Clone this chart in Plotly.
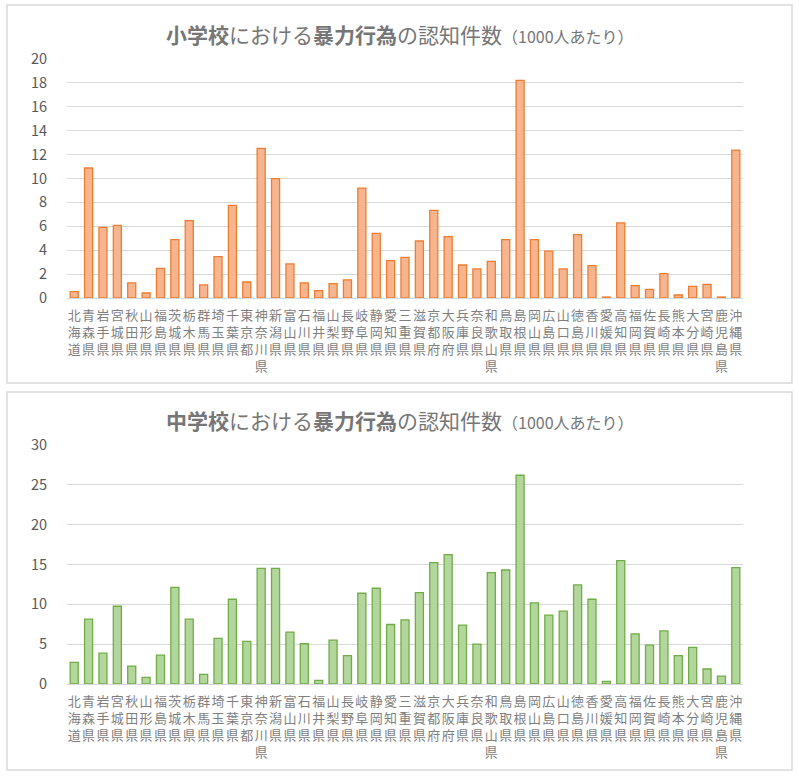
import plotly.graph_objects as go

prefectures = [
    "北海道", "青森県", "岩手県", "宮城県", "秋田県", "山形県", "福島県", "茨城県",
    "栃木県", "群馬県", "埼玉県", "千葉県", "東京都", "神奈川県", "新潟県", "富山県",
    "石川県", "福井県", "山梨県", "長野県", "岐阜県", "静岡県", "愛知県", "三重県",
    "滋賀県", "京都府", "大阪府", "兵庫県", "奈良県", "和歌山県", "鳥取県", "島根県",
    "岡山県", "広島県", "山口県", "徳島県", "香川県", "愛媛県", "高知県", "福岡県",
    "佐賀県", "長崎県", "熊本県", "大分県", "宮崎県", "鹿児島県", "沖縄県",
]

# 小学校 (1000人あたり)
elementary_rates = [
    0.53, 10.88, 5.91, 6.08, 1.26, 0.42, 2.48, 4.88,
    6.47, 1.09, 3.46, 7.75, 1.34, 12.52, 9.99, 2.85,
    1.26, 0.61, 1.20, 1.51, 9.20, 5.41, 3.12, 3.40,
    4.77, 7.34, 5.13, 2.76, 2.43, 3.07, 4.88, 18.21,
    4.88, 3.93, 2.43, 5.30, 2.71, 0.08, 6.28, 1.03,
    0.73, 2.04, 0.25, 0.98, 1.14, 0.08, 12.38,
]

# 中学校 (1000人あたり)
junior_high_rates = [
    2.71, 8.14, 3.88, 9.76, 2.25, 0.83, 3.63, 12.14,
    8.14, 1.21, 5.72, 10.64, 5.34, 14.52, 14.52, 6.51,
    5.05, 0.46, 5.51, 3.55, 11.39, 12.02, 7.47, 8.05,
    11.47, 15.23, 16.23, 7.38, 5.01, 13.98, 14.31, 26.20,
    10.18, 8.64, 9.14, 12.43, 10.64, 0.33, 15.48, 6.30,
    4.88, 6.68, 3.55, 4.59, 1.88, 1.00, 14.60,
]

elementary_ticks = [0, 2, 4, 6, 8, 10, 12, 14, 16, 18, 20]
junior_high_ticks = [0, 5, 10, 15, 20, 25, 30]

W, H = 799, 778
FONT = "Noto Sans CJK JP"
GRID = "#D9D9D9"
TEXT = "#595959"


def px_x(x):
    return x / W


def px_y(y):
    return 1 - y / H


# Excel wrapped each name one character per line
stacked_labels = ["<br>".join(name) for name in prefectures]

fig = go.Figure()
fig.add_trace(
    go.Bar(
        x=prefectures,
        y=elementary_rates,
        marker=dict(color="#F7B58F", line=dict(color="#ED7D31", width=1.3)),
        xaxis="x",
        yaxis="y",
        hovertemplate="%{x}: %{y}<extra></extra>",
    )
)
fig.add_trace(
    go.Bar(
        x=prefectures,
        y=junior_high_rates,
        marker=dict(color="#B2D69B", line=dict(color="#70AD47", width=1.3)),
        xaxis="x2",
        yaxis="y2",
        hovertemplate="%{x}: %{y}<extra></extra>",
    )
)

xaxis_common = dict(
    domain=[px_x(67), px_x(743)],
    tickmode="array",
    tickvals=prefectures,
    ticktext=stacked_labels,
    tickfont=dict(family=FONT, size=13, color="#7F7F7F"),
    tickangle=0,
    ticklabelstandoff=8,
    showgrid=False,
    showline=False,
    ticks="",
    automargin=False,
    fixedrange=True,
)
yaxis_common = dict(
    showgrid=True,
    gridcolor=GRID,
    gridwidth=1,
    zeroline=True,
    zerolinecolor=GRID,
    zerolinewidth=1,
    showline=False,
    ticks="",
    ticklabelstandoff=19,
    tickfont=dict(family=FONT, size=14.5, color=TEXT),
    automargin=False,
    fixedrange=True,
)

fig.update_layout(
    width=W,
    height=H,
    margin=dict(l=0, r=0, t=0, b=0, autoexpand=False),
    paper_bgcolor="white",
    plot_bgcolor="white",
    showlegend=False,
    bargap=0.44,
    xaxis=dict(anchor="y", **xaxis_common),
    yaxis=dict(
        anchor="x",
        domain=[px_y(298), px_y(59)],
        range=[0, 20],
        tickvals=elementary_ticks,
        **yaxis_common,
    ),
    xaxis2=dict(anchor="y2", **xaxis_common),
    yaxis2=dict(
        anchor="x2",
        domain=[px_y(684), px_y(445)],
        range=[0, 30],
        tickvals=junior_high_ticks,
        **yaxis_common,
    ),
)

# panel borders
for y0, y1 in [(5, 383), (392, 770)]:
    fig.add_shape(
        type="rect",
        xref="paper",
        yref="paper",
        x0=px_x(7),
        x1=px_x(792),
        y0=px_y(y1),
        y1=px_y(y0),
        line=dict(color=GRID, width=1.5),
        layer="below",
    )

title_tail = "<span style='font-size:16px'>（1000人あたり）</span>"
for school, ty in [("小学校", 34), ("中学校", 420)]:
    fig.add_annotation(
        text=f"<b>{school}</b>における<b>暴力行為</b>の認知件数{title_tail}",
        xref="paper",
        yref="paper",
        x=0.5,
        y=px_y(ty),
        xanchor="center",
        yanchor="middle",
        showarrow=False,
        font=dict(family=FONT, size=21, color="#767676"),
    )

# drop the default 8px page margin so the figure sits at the window's corner
fig.write_html(
    "out.html",
    config={"displayModeBar": False},
    post_script="document.body.style.margin = '0';",
)
